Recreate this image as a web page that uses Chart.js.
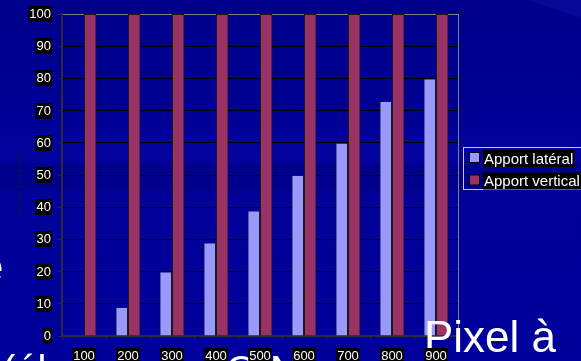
<!DOCTYPE html>
<html>
<head>
<meta charset="utf-8">
<script src="https://cdn.jsdelivr.net/npm/chart.js@4"></script>
<style>
  html, body { margin: 0; padding: 0; background: #00008f; }
  #wrap { width: 581px; height: 361px; position: relative; }
</style>
</head>
<body>
<div id="wrap"><canvas id="c" width="581" height="361"></canvas></div>
<script>
// Inflow per pixel distance (1/10 mm)
const categories = ['100', '200', '300', '400', '500', '600', '700', '800', '900'];
const apportLateral = [0, 9, 20, 29, 39, 50, 60, 73, 80];
const apportVertical = [100, 100, 100, 100, 100, 100, 100, 100, 100];
const seriesNames = ['Apport latéral', 'Apport vertical'];
const yTitle = 'Apports (1/10 mm)';

const FONT = '"Liberation Sans", Arial, sans-serif';

// Slide backdrop: blue gradient with a darker horizontal band
const backdrop = {
  id: 'backdrop',
  beforeDraw(chart) {
    const ctx = chart.ctx, w = chart.width, h = chart.height;
    ctx.save();
    const g = ctx.createLinearGradient(0, 0, 0, h);
    g.addColorStop(0.00, '#00008c');
    g.addColorStop(0.30, '#000092');
    g.addColorStop(0.38, '#02029c');
    g.addColorStop(0.445, '#03039f');
    g.addColorStop(0.46, '#00008d');
    g.addColorStop(0.52, '#00008d');
    g.addColorStop(0.54, '#02029b');
    g.addColorStop(1.00, '#00009a');
    ctx.fillStyle = g;
    ctx.fillRect(0, 0, w, h);
    // lighter wedge in the top right corner
    ctx.fillStyle = 'rgba(40,40,200,0.2)';
    ctx.beginPath();
    ctx.moveTo(527, 0); ctx.lineTo(w, 0); ctx.lineTo(w, 18); ctx.closePath();
    ctx.fill();
    ctx.restore();
  }
};

// Slide text partly hidden behind the chart
const slideText = {
  id: 'slideText',
  afterDatasetsDraw(chart) {
    const ctx = chart.ctx, a = chart.chartArea;
    ctx.save();
    // right edge of the plot frame
    ctx.strokeStyle = '#808080';
    ctx.lineWidth = 1;
    ctx.beginPath();
    ctx.moveTo(Math.round(a.right) + 0.5, a.top);
    ctx.lineTo(Math.round(a.right) + 0.5, a.bottom);
    ctx.stroke();

    ctx.fillStyle = '#ffffff';
    ctx.textBaseline = 'alphabetic';
    ctx.textAlign = 'left';
    ctx.font = '44px ' + FONT;
    ctx.fillText('Pixel à', 424, 352);
    ctx.fillText('c', 580, 352);
    ctx.fillText('e', -21, 282);
    ctx.font = '40px ' + FONT;
    ctx.fillText('(él', 2, 384);
    ctx.fillText('O', 226, 384);
    ctx.fillText('N', 270, 384);
    ctx.fillText(')', 343, 384);
    ctx.restore();
  }
};

// Tick labels on black boxes, axis title and legend
const labels = {
  id: 'labels',
  afterDraw(chart) {
    const ctx = chart.ctx;
    const ys = chart.scales.y, xs = chart.scales.x;
    ctx.save();
    ctx.font = '13px ' + FONT;
    ctx.textBaseline = 'middle';
    ctx.textAlign = 'right';
    ys.ticks.forEach(t => {
      const y = Math.round(ys.getPixelForValue(t.value));
      const s = String(t.value);
      const w = ctx.measureText(s).width;
      ctx.fillStyle = '#000';
      ctx.fillRect(52 - w - 2, y - 8, w + 2, 16);
      ctx.fillStyle = '#fff';
      ctx.fillText(s, 51, y + 0.5);
    });
    ctx.textAlign = 'center';
    ctx.textBaseline = 'alphabetic';
    categories.forEach((c, i) => {
      const x = xs.getPixelForValue(i);
      const w = ctx.measureText(c).width;
      ctx.fillStyle = '#000';
      ctx.fillRect(x - w / 2 - 1, 348, w + 2, 16);
      ctx.fillStyle = '#fff';
      ctx.fillText(c, x, 360);
    });

    // y axis title
    ctx.save();
    ctx.translate(20, 184);
    ctx.rotate(-Math.PI / 2);
    ctx.font = '8px ' + FONT;
    ctx.fillStyle = '#10104e';
    ctx.textAlign = 'center';
    ctx.textBaseline = 'middle';
    ctx.fillText(yTitle, 0, 0);
    ctx.restore();

    // legend
    ctx.strokeStyle = '#c8c8c8';
    ctx.lineWidth = 1;
    ctx.strokeRect(463.5, 147.5, 130, 42);
    ctx.font = '15px ' + FONT;
    ctx.textAlign = 'left';
    chart.data.datasets.forEach((ds, i) => {
      const top = 150 + i * 22.5;
      ctx.fillStyle = ds.backgroundColor;
      ctx.fillRect(469.5, top + 2.5, 10, 10);
      ctx.strokeStyle = '#000';
      ctx.strokeRect(469.5, top + 2.5, 10, 10);
      const w = ctx.measureText(ds.label).width;
      ctx.fillStyle = '#000';
      ctx.fillRect(483, top, w + 2, 17);
      ctx.fillStyle = '#fff';
      ctx.fillText(ds.label, 484, top + 13.5);
    });
    ctx.restore();
  }
};

new Chart(document.getElementById('c'), {
  type: 'bar',
  data: {
    labels: categories,
    datasets: [
      { label: seriesNames[0], data: apportLateral, backgroundColor: '#9999ff', borderColor: '#1a1a1a', borderWidth: 1 },
      { label: seriesNames[1], data: apportVertical, backgroundColor: '#993366', borderColor: '#1a1a1a', borderWidth: 1 }
    ]
  },
  options: {
    responsive: false,
    animation: false,
    devicePixelRatio: 1,
    layout: { padding: { top: 14, right: 123, left: 0, bottom: 0 } },
    datasets: { bar: { barPercentage: 1, categoryPercentage: 0.57 } },
    plugins: { legend: { display: false }, tooltip: { enabled: false } },
    scales: {
      x: {
        ticks: { display: false },
        grid: { offset: true, drawOnChartArea: false, drawTicks: true, tickLength: 4, tickColor: '#22223a' },
        border: { color: '#2a2a3a', width: 2 },
        afterFit(s) { s.height = 25; }
      },
      y: {
        min: 0, max: 100,
        ticks: { display: false, stepSize: 10 },
        grid: {
          color: c => (c.tick && c.tick.value === 100) ? '#808080' : '#000000',
          lineWidth: 1, drawTicks: true, tickLength: 4, tickColor: '#22223a'
        },
        border: { color: '#2a2a3a', width: 2 },
        afterFit(s) { s.width = 62; }
      }
    }
  },
  plugins: [backdrop, slideText, labels]
});
</script>
</body>
</html>
